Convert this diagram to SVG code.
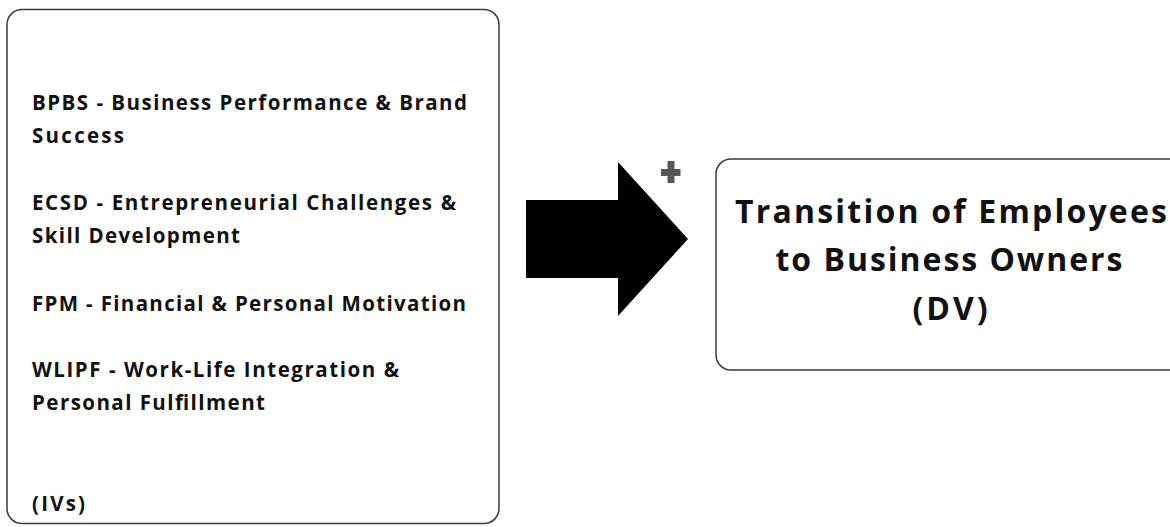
<svg xmlns="http://www.w3.org/2000/svg" width="1170" height="527" viewBox="0 0 1170 527">
  <style>
    .box { fill: #ffffff; stroke: #3a3a3a; stroke-width: 1.5; }
    .iv { font-family: "Open Sans", "Liberation Sans", sans-serif; font-weight: 700; font-size: 20.5px; fill: #111111; }
    .dv { font-family: "Open Sans", "Liberation Sans", sans-serif; font-weight: 700; font-size: 32px; fill: #111111; text-anchor: middle; }
  </style>
  <rect width="1170" height="527" fill="#ffffff"/>

  <!-- Independent variables -->
  <g id="ivs">
    <rect class="box" x="7" y="9.5" width="492" height="514" rx="15" ry="15"/>
    <text class="iv" x="32" y="110" textLength="435" lengthAdjust="spacing">BPBS - Business Performance &amp; Brand</text>
    <text class="iv" x="32" y="143" textLength="92" lengthAdjust="spacing">Success</text>
    <text class="iv" x="32" y="210" textLength="424" lengthAdjust="spacing">ECSD - Entrepreneurial Challenges &amp;</text>
    <text class="iv" x="32" y="243" textLength="208" lengthAdjust="spacing">Skill Development</text>
    <text class="iv" x="32" y="311" textLength="434" lengthAdjust="spacing">FPM - Financial &amp; Personal Motivation</text>
    <text class="iv" x="32" y="377" textLength="367" lengthAdjust="spacing">WLIPF - Work-Life Integration &amp;</text>
    <text class="iv" x="32" y="410" textLength="233" lengthAdjust="spacing">Personal Fulfillment</text>
    <text class="iv" x="32" y="511" textLength="53" lengthAdjust="spacing">(IVs)</text>
  </g>

  <!-- Dependent variable -->
  <g id="dv">
    <rect class="box" x="716" y="159" width="480" height="211" rx="15" ry="15"/>
    <text class="dv" x="951" y="223" textLength="432" lengthAdjust="spacing">Transition of Employees</text>
    <text class="dv" x="949" y="271" textLength="347" lengthAdjust="spacing">to Business Owners</text>
    <text class="dv" x="950" y="320" textLength="75" lengthAdjust="spacing">(DV)</text>
  </g>

  <!-- Connector: block arrow with plus mark -->
  <g id="connectors">
    <polygon points="526,200 618,200 618,162 688,239 618,316 618,278 526,278" fill="#000000"/>
    <path d="M667.5,161 h7 v8 h6 v7 h-6 v7 h-7 v-7 h-6.5 v-7 h6.5 z" fill="#555555"/>
  </g>
</svg>
